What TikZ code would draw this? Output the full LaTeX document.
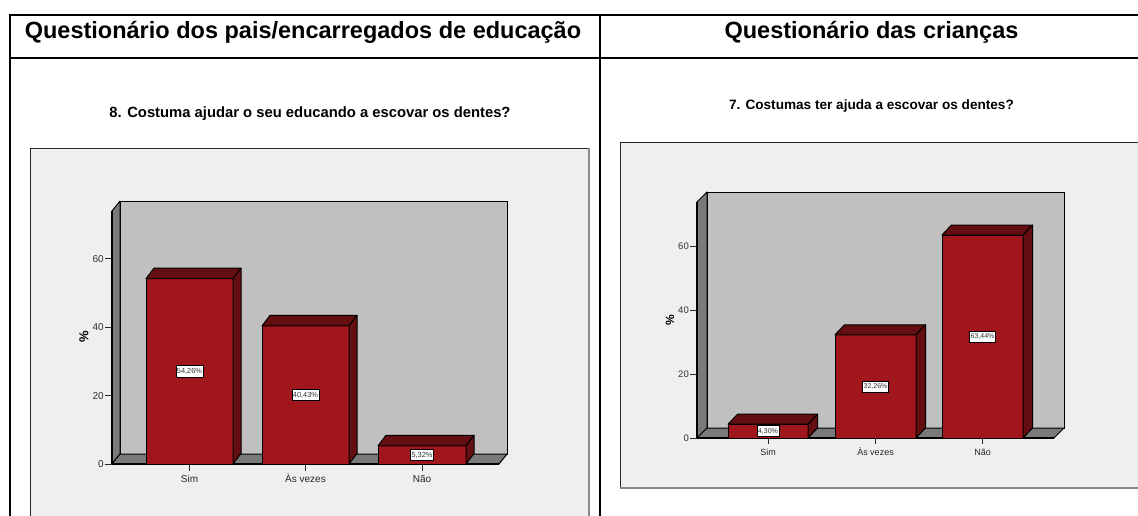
\documentclass[tikz,border=0pt]{standalone}
\usepackage{fontspec}
\setmainfont{Liberation Sans}
\usetikzlibrary{calc}
\definecolor{barfront}{HTML}{A0161A}
\definecolor{bardark}{HTML}{650E11}
\definecolor{wallback}{HTML}{C0C0C0}
\definecolor{wallside}{HTML}{7A7A7A}
\definecolor{chartbg}{HTML}{EFEFEF}
\definecolor{ticktext}{HTML}{333333}
\definecolor{boxgray}{HTML}{8A8A8A}

\newcommand\tdbar[8]{%
  \filldraw[barface] (#1,#4) rectangle (#2,#3);
  \filldraw[bardarkface] (#1,#3) -- ++(#5,-#6) -- ++(#2-#1,0) -- (#2,#3) -- cycle;
  \filldraw[bardarkface] (#2,#3) -- ++(#5,-#6) -- ($(#2,#4)+(#5,-#6)$) -- (#2,#4) -- cycle;
  \node[vallabel] (#7) at ({(#1+#2)/2},{(#3+#4)/2}) {#8};
}

\begin{document}
\begin{tikzpicture}[x=1pt,y=-1pt,
  tabline/.style={line width=2pt, black},
  hdr/.style={font=\bfseries\fontsize{23.5}{28}\selectfont, inner sep=0pt, anchor=base},
  barface/.style={fill=barfront, draw=black, line width=1pt, line join=round},
  bardarkface/.style={fill=bardark, draw=black, line width=1pt, line join=round},
  wallbk/.style={fill=wallback, draw=black, line width=1pt},
  wallsd/.style={fill=wallside, draw=black, line width=1pt, line join=round},
  axisline/.style={line width=1.6pt, black},
  tickline/.style={line width=1pt, black!85},
  vallabel/.style={draw=black, fill=white, line width=0.8pt, inner xsep=1pt, inner ysep=2.6pt, text=black!80},
  boxline/.style={line width=1pt, black!85},
  boxlow/.style={line width=1.5pt, boxgray}
]
\useasboundingbox (0,0) rectangle (1138,515);
\fill[white] (0,0) rectangle (1138,515);

% ---------------- chart boxes
\fill[chartbg] (30,148) rectangle (589,516);
\draw[boxline] (30,516) -- (30,148) -- (589,148);
\draw[boxlow] (589,148) -- (589,516);
\fill[chartbg] (620,142) rectangle (1139,488);
\draw[boxline] (620,488) -- (620,142) -- (1139,142);
\draw[boxlow] (620,488) -- (1139,488);

% ---------------- left chart
\filldraw[wallbk] (120,201) rectangle (507,454);
\filldraw[wallsd] (112,211) -- (120,201) -- (120,454) -- (112,464) -- cycle;
\filldraw[wallsd] (112,464) -- (120,454) -- (507,454) -- (499,464) -- cycle;
\draw[axisline] (112,211) -- (112,464) -- (499,464);
\foreach \v in {0,20,40,60}{
  \draw[tickline] (105,{464-3.417*\v}) -- (112,{464-3.417*\v});
  \node[anchor=east, inner sep=0pt, text=ticktext, font=\fontsize{10}{12}\selectfont] (lt\v) at (104,{464-3.417*\v}) {\v};
}
\node[rotate=90, inner sep=0pt, font=\bfseries\fontsize{13}{15}\selectfont] (lpct) at (84,337) {\%};
\tdbar{146}{233}{278.6}{464}{8}{10.5}{lv1}{\fontsize{7.4}{8}\selectfont 54,26\%}
\tdbar{262}{349}{325.9}{464}{8}{10.5}{lv2}{\fontsize{7.4}{8}\selectfont 40,43\%}
\tdbar{378}{466}{445.8}{464}{8}{10.5}{lv3}{\fontsize{7.4}{8}\selectfont 5,32\%}
\foreach \x/\t/\n in {189.5/Sim/1, 305.5/Às vezes/2, 422/Não/3}{
  \draw[tickline] (\x,464) -- (\x,470.5);
  \node[inner sep=0pt, text=black!85, font=\fontsize{10}{12}\selectfont] (lc\n) at (\x,478.5) {\t};
}

% ---------------- right chart
\filldraw[wallbk] (707,192) rectangle (1064,428);
\filldraw[wallsd] (697,202) -- (707,192) -- (707,428) -- (697,438) -- cycle;
\filldraw[wallsd] (697,438) -- (707,428) -- (1064,428) -- (1054,438) -- cycle;
\draw[axisline] (697,202) -- (697,438) -- (1054,438);
\foreach \v in {0,20,40,60}{
  \draw[tickline] (690,{438-3.2*\v}) -- (697,{438-3.2*\v});
  \node[anchor=east, inner sep=0pt, text=ticktext, font=\fontsize{9.5}{11}\selectfont] (rt\v) at (689,{438-3.2*\v}) {\v};
}
\node[rotate=90, inner sep=0pt, font=\bfseries\fontsize{12}{14}\selectfont] (rpct) at (670,320) {\%};
\tdbar{728}{808}{424.2}{438}{9.5}{10}{rv1}{\fontsize{7}{8}\selectfont 4,30\%}
\tdbar{835}{916}{334.8}{438}{9.5}{10}{rv2}{\fontsize{7}{8}\selectfont 32,26\%}
\tdbar{942}{1023}{235}{438}{9.5}{10}{rv3}{\fontsize{7}{8}\selectfont 63,44\%}
\foreach \x/\t/\n in {768/Sim/1, 875.5/Às vezes/2, 982.5/Não/3}{
  \draw[tickline] (\x,438) -- (\x,444);
  \node[inner sep=0pt, text=black!85, font=\fontsize{9}{11}\selectfont] (rc\n) at (\x,452) {\t};
}

% ---------------- titles
\node[hdr] (h1) at (303,38.5) {Questionário dos pais/encarregados de educação};
\node[hdr] (h2) at (871.5,38.5) {Questionário das crianças};
\node[anchor=base, inner sep=0pt, font=\bfseries\fontsize{14.8}{17}\selectfont] (s1) at (310,117) {8. Costuma ajudar o seu educando a escovar os dentes?};
\node[anchor=base, inner sep=0pt, font=\bfseries\fontsize{13.6}{16}\selectfont] (s2) at (871.5,109.5) {7. Costumas ter ajuda a escovar os dentes?};

% ---------------- table
\draw[tabline] (9,15) -- (1139,15);
\draw[tabline] (9,58) -- (1139,58);
\draw[tabline] (10,14) -- (10,516);
\draw[tabline] (600,14) -- (600,516);
\end{tikzpicture}
\end{document}
